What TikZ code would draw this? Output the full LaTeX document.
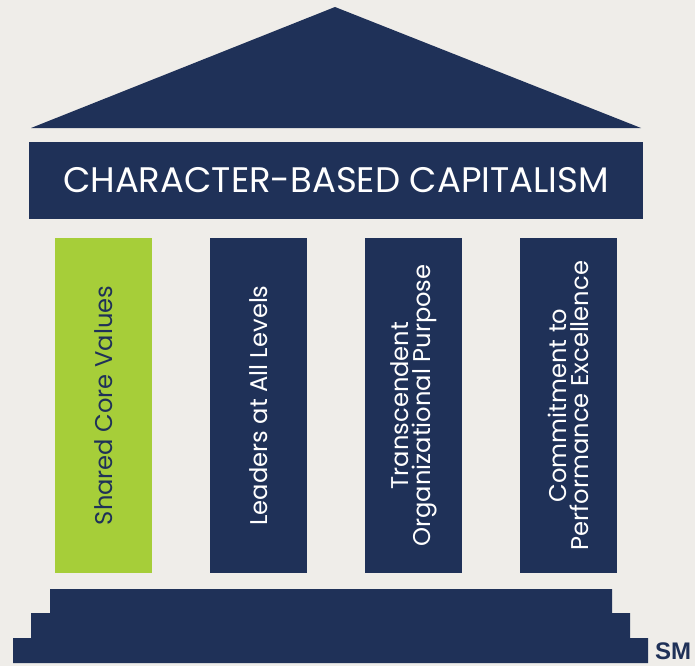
\documentclass[tikz,border=0pt]{standalone}
\usepackage{fontspec}
\setmainfont{Poppins}
\newfontfamily\markfont{Liberation Sans}
\usetikzlibrary{positioning}
\definecolor{navy}{HTML}{1F3158}
\definecolor{lime}{HTML}{A6CE39}
\definecolor{paper}{HTML}{EFEDE9}
\tikzset{
    pillar/.style={rotate=90,minimum width=335pt,minimum height=97pt,inner sep=0pt,align=center,font=\fontsize{24.2}{22}\selectfont},
}

\begin{document}
\begin{tikzpicture}[x=1pt,y=-1pt]
            \fill[paper] (0,0) rectangle (695,666);
            \useasboundingbox (0,0) rectangle (695,666);
            % roof and frieze
            \coordinate (L) at (31,128);
            \coordinate (T) at (335,7);
            \coordinate (R) at (641,128);
            \fill[navy] (L) -- (T) -- (R) -- cycle;
            \node[fill=navy,text=white,minimum width=614pt,minimum height=77pt,inner sep=0pt,font=\fontsize{35.5}{36}\selectfont] (F) at (336,180.5) {CHARACTER-BASED CAPITALISM};
            % the four pillars
            \node[pillar,fill=lime,text=navy] (P1) at (103.5,405.5) {Shared Core Values};
            \node[pillar,fill=navy,text=white] (P2) at (258.5,405.5) {Leaders at All Levels};
            \node[pillar,fill=navy,text=white] (P3) at (413.5,405.5) {Transcendent\\Organizational Purpose};
            \node[pillar,fill=navy,text=white] (P4) at (568.5,405.5) {Commitment to\\Performance Excellence};
            % steps
            \fill[navy] (50,589) -- (612,589) -- (612,613) -- (630,613) -- (630,638) -- (648,638) -- (648,663)
                -- (13,663) -- (13,638) -- (31,638) -- (31,613) -- (50,613) -- cycle;
            \node[text=navy,inner sep=0pt,font=\markfont\bfseries\fontsize{24}{24}\selectfont] (SM) at (673,651) {SM};
        \end{tikzpicture}
\end{document}
